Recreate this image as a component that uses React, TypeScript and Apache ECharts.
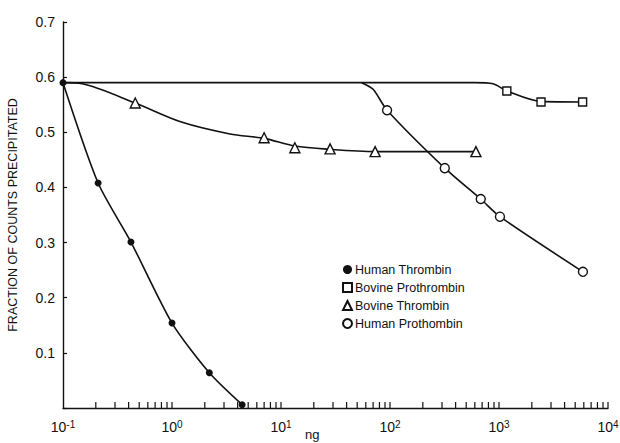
import React, { useEffect, useRef } from "react";
import * as echarts from "echarts";

// Marked data points (ng, fraction precipitated)
const HT_X = [0.1, 0.21, 0.42, 1.0, 2.2, 4.4];
const HT_Y = [0.59, 0.408, 0.301, 0.154, 0.064, 0.006];

const BP_X = [1180, 2430, 5850];
const BP_Y = [0.575, 0.555, 0.555];

const BT_X = [0.46, 7.0, 13.4, 28.2, 73, 614];
const BT_Y = [0.553, 0.49, 0.472, 0.47, 0.465, 0.465];

const HP_X = [94, 318, 680, 1020, 5890];
const HP_Y = [0.54, 0.435, 0.379, 0.347, 0.247];

// Hand-drawn curve anchors
const HT_CURVE_X = [0.1, 0.21, 0.42, 1.0, 2.2, 4.4];
const HT_CURVE_Y = [0.59, 0.408, 0.301, 0.154, 0.064, 0.006];
const BP_CURVE_X = [0.1, 10, 600, 880, 1180, 2430, 5850];
const BP_CURVE_Y = [0.59, 0.59, 0.59, 0.588, 0.575, 0.556, 0.555];
const BT_CURVE_X = [0.1, 0.15, 0.46, 1.2, 3.4, 7.0, 13.4, 28.2, 73, 614];
const BT_CURVE_Y = [0.59, 0.588, 0.553, 0.519, 0.497, 0.489, 0.475, 0.469, 0.465, 0.465];
const HP_CURVE_X = [55, 70, 94, 318, 680, 1020, 5890];
const HP_CURVE_Y = [0.59, 0.578, 0.54, 0.435, 0.379, 0.347, 0.247];

const Y_TICKS = [0.1, 0.2, 0.3, 0.4, 0.5, 0.6, 0.7];
const DECADES = [0.1, 1, 10, 100, 1000];
const MULTIPLIERS = [2, 3, 4, 5, 6, 7, 8, 9];

const NAMES = ["Human Thrombin", "Bovine Prothrombin", "Bovine Thrombin", "Human Prothombin"];
const X_NAME = "ng";

const zip = (xs: number[], ys: number[]) => xs.map((x, i) => [x, ys[i]]);

const FONT = "Liberation Sans";
const INK = "#111";

export default function App() {
  const ref = useRef<HTMLDivElement>(null);
  useEffect(() => {
    if (!ref.current) return;
    const chart = echarts.init(ref.current, null, { renderer: "svg" });
    const minorTicks: number[][] = [];
    DECADES.forEach((d) => MULTIPLIERS.forEach((m) => minorTicks.push([d * m, 0])));
    DECADES.slice(1).forEach((d) => minorTicks.push([d, 0]));
    minorTicks.push([10000, 0]);

    const curve = (name: string, data: number[][], smooth: number) => ({
      type: "line",
      name,
      data,
      smooth,
      showSymbol: false,
      symbol: "none",
      clip: false,
      lineStyle: { color: INK, width: 1.6 },
      z: 2,
    });
    const pts = (name: string, data: number[][], symbol: string, size: number, filled: boolean) => ({
      type: "scatter",
      name,
      data,
      symbol,
      symbolSize: size,
      clip: false,
      itemStyle: {
        color: filled ? INK : "#fff",
        borderColor: INK,
        borderWidth: filled ? 0 : 1.4,
        opacity: 1,
      },
      z: 4,
    });

    chart.setOption({
      animation: false,
      backgroundColor: "#fff",
      textStyle: { fontFamily: FONT },
      grid: { left: 63, right: 12, top: 22, bottom: 35, containLabel: false, outerBoundsMode: "none" },
      graphic: [
        {
          type: "text",
          left: 305,
          top: 428,
          style: { text: X_NAME, font: "13px 'Liberation Sans'", fill: INK },
        },
      ],
      legend: {
        data: NAMES,
        orient: "vertical",
        left: 337,
        top: 258,
        itemWidth: 9,
        itemHeight: 9,
        itemGap: 5,
        textStyle: { fontFamily: FONT, fontSize: 12.5, color: INK, padding: [0, 0, 0, -2] },
        selectedMode: false,
      },
      xAxis: {
        type: "log",
        logBase: 10,
        min: 0.1,
        max: 10000,
        axisLine: { lineStyle: { color: INK, width: 1.4 } },
        axisTick: { show: false },
        splitLine: { show: false },
        axisLabel: {
          margin: 11,
          showMaxLabel: true,
          showMinLabel: true,
          formatter: (v: number) => {
            const e = Math.round(Math.log10(v));
            return "{b|10}{s|" + e + "}";
          },
          rich: {
            b: { fontFamily: FONT, fontSize: 14, color: INK, lineHeight: 16 },
            s: { fontFamily: FONT, fontSize: 10, color: INK, verticalAlign: "top", lineHeight: 16, padding: [0, 0, 6, 0] },
          },
        },
      },
      yAxis: {
        type: "value",
        min: 0,
        max: 0.7,
        interval: 0.1,
        name: "FRACTION OF COUNTS PRECIPITATED",
        nameLocation: "middle",
        nameGap: 44,
        nameTextStyle: { fontFamily: FONT, fontSize: 12.5, color: INK },
        axisLine: { show: true, lineStyle: { color: INK, width: 1.4 } },
        axisTick: { show: true, inside: true, length: 4, lineStyle: { color: INK, width: 1.2 } },
        splitLine: { show: false },
        axisLabel: {
          fontFamily: FONT,
          fontSize: 14,
          color: INK,
          margin: 8,
          formatter: (v: number) => (Y_TICKS.some((t) => Math.abs(t - v) < 1e-9) ? v.toFixed(1) : ""),
        },
      },
      series: [
        curve("c-ht", zip(HT_CURVE_X, HT_CURVE_Y), 0.25),
        curve("c-bp", zip(BP_CURVE_X, BP_CURVE_Y), 0.3),
        curve("c-bt", zip(BT_CURVE_X, BT_CURVE_Y), 0.3),
        curve("c-hp", zip(HP_CURVE_X, HP_CURVE_Y), 0.25),
        pts(NAMES[0], zip(HT_X, HT_Y), "circle", 7, true),
        pts(NAMES[1], zip(BP_X, BP_Y), "rect", 8, false),
        pts(NAMES[2], zip(BT_X, BT_Y), "triangle", 10, false),
        pts(NAMES[3], zip(HP_X, HP_Y), "circle", 9, false),
        {
          type: "custom",
          name: "minor-ticks",
          data: minorTicks,
          clip: false,
          silent: true,
          renderItem: (params: any, api: any) => {
            const p = api.coord([api.value(0), 0]);
            return {
              type: "line",
              shape: { x1: p[0], y1: p[1], x2: p[0], y2: p[1] - 6 },
              style: { stroke: INK, lineWidth: 1.2 },
            };
          },
          z: 3,
        },
      ],
    });
    return () => chart.dispose();
  }, []);
  return <div ref={ref} style={{ position: "fixed", left: 0, top: 0, width: 620, height: 443 }} />;
}
